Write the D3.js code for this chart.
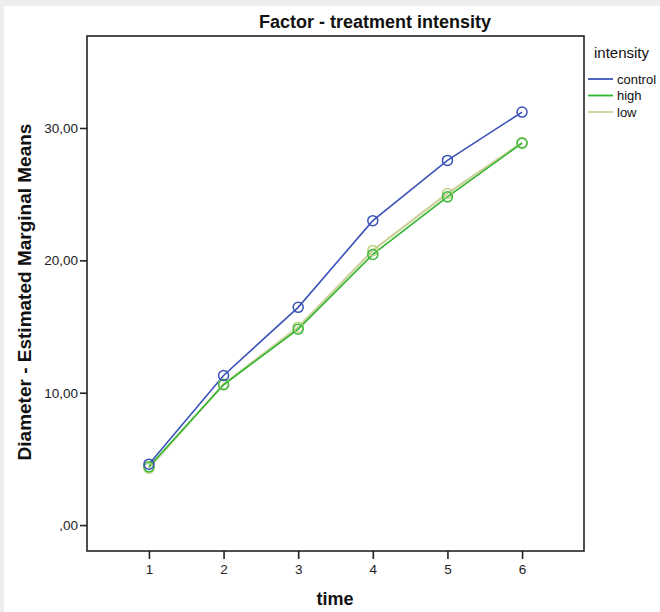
<!DOCTYPE html>
<html><head><meta charset="utf-8">
<script src="https://cdn.jsdelivr.net/npm/d3@7/dist/d3.min.js"></script>
<style>body{margin:0;background:#fff;}svg{display:block;font-family:"Liberation Sans",Arial,sans-serif;}</style>
</head><body><svg id="c" width="660" height="612"></svg>
<script>
const times = [1, 2, 3, 4, 5, 6];
const seriesNames = ["control", "high", "low"];
const controlValues = [4.6, 11.3, 16.45, 23.0, 27.55, 31.2];
const highValues = [4.4, 10.6, 14.8, 20.45, 24.8, 28.85];
const lowValues = [4.3, 10.65, 14.95, 20.75, 25.05, 28.9];
const yTicks = [0, 10, 20, 30];
const colors = {control: "#3a53b8", high: "#2fb52f", low: "#cdd29c"};
const markerColors = {control: "#3a53b8", high: "#3fb840", low: "#b9d27e"};

const svg = d3.select("#c");
// outer gray frame
svg.append("rect").attr("x",0).attr("y",0).attr("width",660).attr("height",612).attr("fill","#eeeeee");
svg.append("rect").attr("x",4).attr("y",6).attr("width",656).attr("height",606).attr("fill","#ffffff");

const L = 87, T = 36, R = 584, B = 551;
const x = d3.scaleLinear().domain([0.17, 6.83]).range([L, R]);
const y = d3.scaleLinear().domain([-1.96, 36.95]).range([B, T]);

// plot box
svg.append("rect").attr("x",L).attr("y",T).attr("width",R-L).attr("height",B-T)
  .attr("fill","none").attr("stroke","#222").attr("stroke-width",1.6);

// y axis
const yAxis = d3.axisLeft(y).tickValues(yTicks).tickSize(7).tickPadding(2)
  .tickFormat(d => d === 0 ? ",00" : d3.format(".2f")(d).replace(".", ","));
const gy = svg.append("g").attr("transform",`translate(${L},0)`).call(yAxis);
gy.select(".domain").remove();
gy.selectAll("line").attr("stroke","#222").attr("stroke-width",1.6);
gy.selectAll("text").attr("font-size",13.5).attr("fill","#222").attr("font-family","Liberation Sans, Arial, sans-serif");

// x axis
const xAxis = d3.axisBottom(x).tickValues(times).tickSize(8).tickPadding(5).tickFormat(d3.format("d"));
const gx = svg.append("g").attr("transform",`translate(0,${B})`).call(xAxis);
gx.select(".domain").remove();
gx.selectAll("line").attr("stroke","#222").attr("stroke-width",1.6);
gx.selectAll("text").attr("font-size",13.5).attr("fill","#222").attr("font-family","Liberation Sans, Arial, sans-serif");

// series
const data = {control: controlValues, high: highValues, low: lowValues};
const line = d3.line().x((d,i) => x(times[i])).y(d => y(d));
["low","high","control"].forEach(name => {
  svg.append("path").datum(data[name]).attr("d", line)
    .attr("fill","none").attr("stroke", colors[name]).attr("stroke-width", name === "low" ? 2.2 : 1.6);
});
["low","high","control"].forEach(name => {
  svg.append("g").selectAll("circle").data(data[name]).join("circle")
    .attr("cx",(d,i)=>x(times[i])).attr("cy",d=>y(d)).attr("r",5)
    .attr("fill","none").attr("stroke",markerColors[name]).attr("stroke-width",1.5);
});

// titles
svg.append("text").attr("x",375).attr("y",28).attr("text-anchor","middle")
  .attr("font-size",18).attr("font-weight","bold").attr("fill","#111").text("Factor - treatment intensity");
svg.append("text").attr("x",335).attr("y",605).attr("text-anchor","middle")
  .attr("font-size",18).attr("font-weight","bold").attr("fill","#111").text("time");
svg.append("text").attr("transform","translate(31,292) rotate(-90)").attr("text-anchor","middle")
  .attr("font-size",19).attr("font-weight","bold").attr("fill","#111").text("Diameter - Estimated Marginal Means");

// legend
svg.append("text").attr("x",594).attr("y",58).attr("font-size",15).attr("fill","#111").text("intensity");
seriesNames.forEach((name,i) => {
  const yy = 79 + i*16.5;
  svg.append("line").attr("x1",588).attr("x2",613).attr("y1",yy).attr("y2",yy)
    .attr("stroke",colors[name]).attr("stroke-width",1.8);
  svg.append("text").attr("x",617).attr("y",yy+4.5).attr("font-size",13).attr("fill","#111").text(name);
});
</script></body></html>
